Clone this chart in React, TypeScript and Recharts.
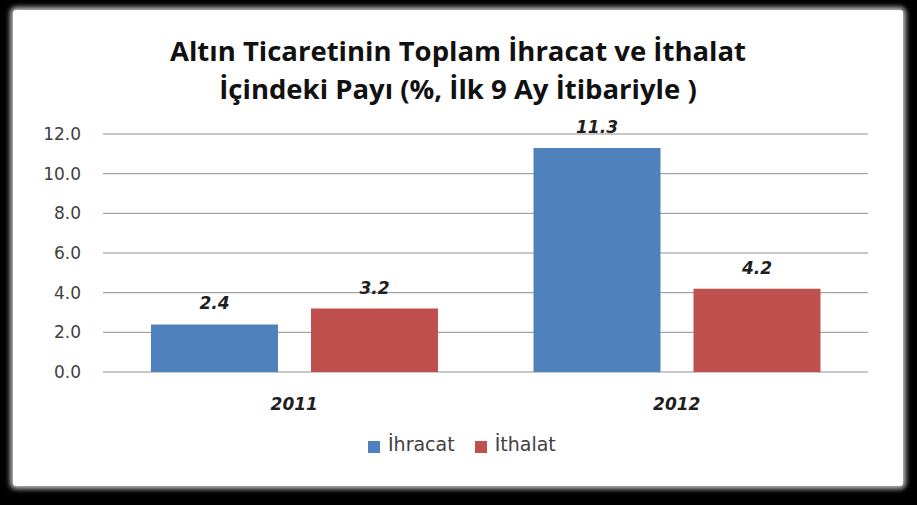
import { BarChart, Bar, XAxis, YAxis, CartesianGrid, Legend, LabelList } from 'recharts'

const BLUE = '#4f81bd'
const RED  = '#c0504d'

const years   = ['2011', '2012']
const ihracat = [2.4, 11.3]
const ithalat = [3.2, 4.2]
const yTicks  = [0, 2, 4, 6, 8, 10, 12]

const data = years.map((y, i) => ({ year: y, ihracat: ihracat[i], ithalat: ithalat[i] }))

const LABEL_STYLE = {
  fontFamily: 'DejaVu Sans',
  fontSize: 17,
  fontWeight: 700,
  fontStyle: 'italic',
  fill: '#1f1f1f',
}

export default function App() {
  return (
    <div style={{ position: 'fixed', left: 0, top: 0, width: 917, height: 505, background: '#000' }}>
      <div
        style={{
          position: 'absolute', left: 13, top: 10, width: 890, height: 476,
          background: '#fff', borderRadius: 3, boxShadow: '0 0 5px 3px #b8b8b8',
        }}
      >
        {/* title */}
        <div
          style={{
            position: 'absolute', left: 0, top: 22, width: 890, textAlign: 'center',
            fontFamily: 'Open Sans', fontWeight: 700, fontSize: 27.5, lineHeight: '38px', color: '#111',
          }}
        >
          Altın Ticaretinin Toplam İhracat ve İthalat<br />
          İçindeki Payı (%, İlk 9 Ay İtibariyle )
        </div>

        <BarChart
          width={890}
          height={476}
          data={data}
          margin={{ top: 124, right: 35, bottom: 52, left: 0 }}
          barCategoryGap={48}
          barGap={33}
        >
          <CartesianGrid vertical={false} stroke="#8f8f8f" />
          <XAxis
            dataKey="year"
            axisLine={false}
            tickLine={false}
            tickMargin={20}
            height={40}
            tick={{ ...LABEL_STYLE }}
          />
          <YAxis
            domain={[0, 12]}
            ticks={yTicks}
            width={90}
            axisLine={false}
            tickLine={false}
            tickMargin={16}
            tickFormatter={(v: number) => v.toFixed(1)}
            tick={{ fontFamily: 'DejaVu Sans', fontSize: 17, fill: '#404040' }}
          />
          <Legend
            iconType="square"
            iconSize={12}
            align="left"
            wrapperStyle={{ top: 423, left: 355, width: 260 }}
            formatter={(v) => (
              <span style={{ fontFamily: 'DejaVu Sans', fontSize: 19, color: '#404040', marginLeft: 4, marginRight: 10 }}>
                {v}
              </span>
            )}
          />
          <Bar dataKey="ihracat" name="İhracat" fill={BLUE} isAnimationActive={false}>
            <LabelList dataKey="ihracat" position="top" offset={15} style={LABEL_STYLE} />
          </Bar>
          <Bar dataKey="ithalat" name="İthalat" fill={RED} isAnimationActive={false}>
            <LabelList dataKey="ithalat" position="top" offset={15} style={LABEL_STYLE} />
          </Bar>
        </BarChart>
      </div>
    </div>
  )
}
